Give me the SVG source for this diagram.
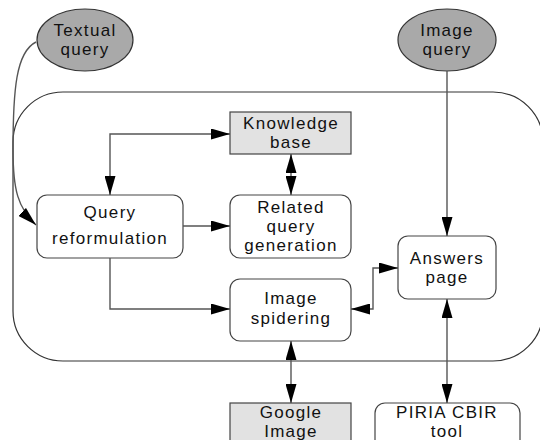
<svg xmlns="http://www.w3.org/2000/svg" width="540" height="440" viewBox="0 0 540 440">
  <style>
    text { font-family: "Liberation Sans", Arial, sans-serif; font-size: 17px; letter-spacing: 1.3px; fill: #111; text-anchor: middle; }
    .oval { fill: #a9a9a9; stroke: #333; stroke-width: 1.2; }
    .box { fill: #fff; stroke: #444; stroke-width: 1.2; }
    .gbox { fill: #e2e2e2; stroke: #444; stroke-width: 1.2; }
    .frame { fill: none; stroke: #333; stroke-width: 1.2; }
    .link { fill: none; stroke: #555; stroke-width: 1.4; }
    .end { marker-end: url(#head); }
    .both { marker-start: url(#head); marker-end: url(#head); }
  </style>
  <defs>
    <marker id="head" markerUnits="userSpaceOnUse" markerWidth="20" markerHeight="11" refX="19" refY="5.5" orient="auto-start-reverse">
      <path d="M0,0 L19,5.5 L0,11 z" fill="#000"/>
    </marker>
  </defs>

  <rect id="system" class="frame" x="13" y="92" width="530" height="269" rx="50" ry="50"/>

  <g id="textual-query">
    <ellipse class="oval" cx="85" cy="40" rx="48" ry="31"/>
    <text x="85" y="36">Textual</text>
    <text x="85" y="55">query</text>
  </g>
  <g id="image-query">
    <ellipse class="oval" cx="447" cy="40" rx="49" ry="31"/>
    <text x="447" y="36">Image</text>
    <text x="447" y="55">query</text>
  </g>
  <g id="knowledge-base">
    <rect class="gbox" x="230" y="112" width="121" height="42"/>
    <text x="291" y="129">Knowledge</text>
    <text x="291" y="148">base</text>
  </g>
  <g id="query-reformulation">
    <rect class="box" x="37" y="195" width="146" height="63" rx="10"/>
    <text x="110" y="218">Query</text>
    <text x="110" y="244">reformulation</text>
  </g>
  <g id="related-query">
    <rect class="box" x="230" y="195" width="121" height="63" rx="10"/>
    <text x="291" y="213">Related</text>
    <text x="291" y="232">query</text>
    <text x="291" y="251">generation</text>
  </g>
  <g id="image-spidering">
    <rect class="box" x="230" y="279" width="121" height="62" rx="10"/>
    <text x="291" y="304">Image</text>
    <text x="291" y="324">spidering</text>
  </g>
  <g id="answers-page">
    <rect class="box" x="398" y="236" width="98" height="63" rx="10"/>
    <text x="447" y="264">Answers</text>
    <text x="447" y="283">page</text>
  </g>
  <g id="google-image">
    <rect class="gbox" x="230" y="403" width="121" height="50"/>
    <text x="291" y="418">Google</text>
    <text x="291" y="437">Image</text>
  </g>
  <g id="piria-cbir">
    <rect class="box" x="375" y="403" width="145" height="50" rx="10"/>
    <text x="447" y="418">PIRIA CBIR</text>
    <text x="447" y="437">tool</text>
  </g>

  <g id="connectors">
    <path class="link end" d="M36,42 C16,52 13,90 13,150 C13,190 18,208 36,225"/>
    <path class="link both" d="M110,195 L110,134 L230,134"/>
    <path class="link both" d="M291,154 L291,195"/>
    <path class="link end" d="M183,226 L230,226"/>
    <path class="link end" d="M110,258 L110,309 L230,309"/>
    <path class="link both" d="M351,309 L373,309 L373,268 L398,268"/>
    <path class="link end" d="M447,71 L447,236"/>
    <path class="link both" d="M291,341 L291,403"/>
    <path class="link both" d="M447,299 L447,403"/>
  </g>
</svg>
